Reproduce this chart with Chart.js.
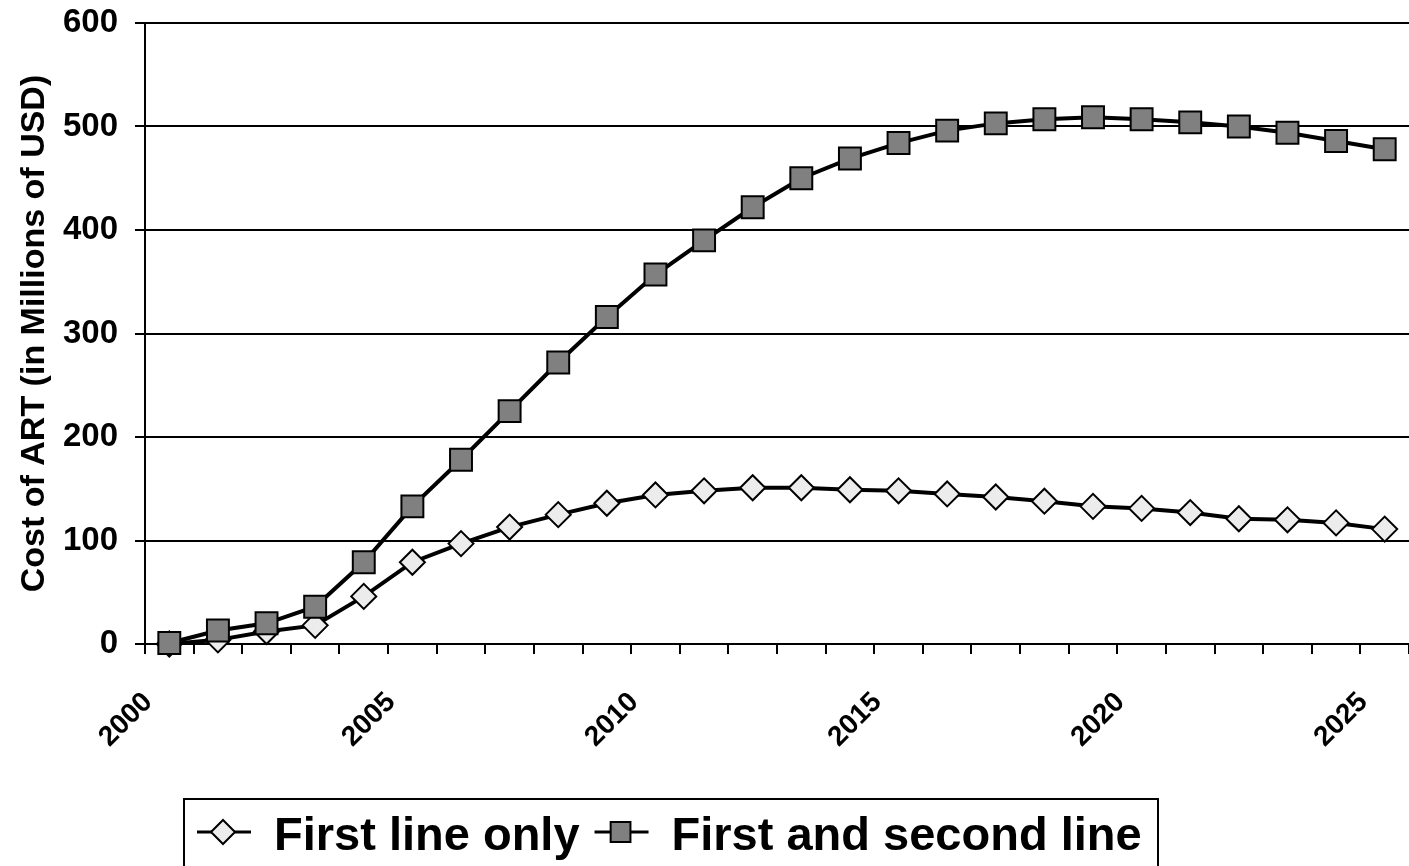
<!DOCTYPE html>
<html>
<head>
<meta charset="utf-8">
<script src="https://cdn.jsdelivr.net/npm/chart.js@4.4.1/dist/chart.umd.min.js"></script>
<style>
  html, body { margin: 0; padding: 0; background: #fff; }
  #wrap { width: 1409px; height: 866px; }
</style>
</head>
<body>
<div id="wrap"><canvas id="chart" width="1409" height="866"></canvas></div>
<script>
// Yearly cost of ART, millions of USD
const years = [2000, 2001, 2002, 2003, 2004, 2005, 2006, 2007, 2008, 2009, 2010, 2011, 2012,
  2013, 2014, 2015, 2016, 2017, 2018, 2019, 2020, 2021, 2022, 2023, 2024, 2025];
const firstLineOnly = [0, 4, 12, 18, 46, 79, 97, 113, 125, 136, 144, 148, 151,
  151, 149, 148, 145, 142, 138, 133, 131, 127, 121, 120, 117, 111];
const firstAndSecondLine = [1, 13, 20, 36, 79, 133, 178, 225, 272, 316, 357, 390, 422,
  450, 469, 484, 496, 503, 507, 509, 507, 504, 500, 494, 486, 478];
const seriesLabels = ['First line only', 'First and second line'];
const labeledYears = [2000, 2005, 2010, 2015, 2020, 2025];

const FONT = "'Liberation Sans', Arial, sans-serif";

// each year sits in the middle of its own slot on the axis
const toPoints = values => values.map((v, i) => ({ x: years[i] + 0.5, y: v }));

// keep the plot area fixed: no extra room reserved for edge labels
const noEdgePadding = scale => {
  scale.paddingTop = 0;
  scale.paddingBottom = 0;
  scale.paddingLeft = 0;
  scale.paddingRight = 0;
};

// boxed legend with line + marker samples, drawn under the x axis
const boxedLegend = {
  id: 'boxedLegend',
  afterDraw(chart) {
    const ctx = chart.ctx;
    const midY = 832;
    ctx.save();
    ctx.strokeStyle = '#000';
    ctx.lineWidth = 2;
    ctx.strokeRect(184, 799, 974, 90);

    ctx.font = 'bold 47px ' + FONT;
    ctx.textBaseline = 'alphabetic';
    let x = 197;
    chart.data.datasets.forEach(ds => {
      ctx.beginPath();
      ctx.strokeStyle = '#000';
      ctx.lineWidth = 3;
      ctx.moveTo(x, midY);
      ctx.lineTo(x + 54, midY);
      ctx.stroke();

      ctx.fillStyle = ds.pointBackgroundColor;
      ctx.lineWidth = 2;
      Chart.helpers.drawPoint(ctx, {
        pointStyle: ds.pointStyle,
        radius: ds.pointStyle === 'rect' ? 14 : 12,
        borderWidth: 2,
        rotation: 0
      }, x + 26, midY);

      ctx.fillStyle = '#000';
      const tx = x + 77;
      ctx.fillText(ds.label, tx, 850);
      x = tx + ctx.measureText(ds.label).width + 15;
    });
    ctx.restore();
  }
};

new Chart(document.getElementById('chart'), {
  type: 'line',
  data: {
    datasets: [
      {
        label: seriesLabels[0],
        data: toPoints(firstLineOnly),
        borderColor: '#000',
        borderWidth: 4,
        pointStyle: 'rectRot',
        pointRadius: 12.5,
        pointBackgroundColor: '#ececec',
        pointBorderColor: '#000',
        pointBorderWidth: 2,
        tension: 0,
        clip: false,
        order: 2
      },
      {
        label: seriesLabels[1],
        data: toPoints(firstAndSecondLine),
        borderColor: '#000',
        borderWidth: 4,
        pointStyle: 'rect',
        pointRadius: 15.5,
        pointBackgroundColor: '#808080',
        pointBorderColor: '#000',
        pointBorderWidth: 2,
        tension: 0,
        clip: false,
        order: 1
      }
    ]
  },
  options: {
    responsive: false,
    animation: false,
    layout: { autoPadding: false, padding: { top: 23, right: 0, left: 0, bottom: 0 } },
    plugins: {
      legend: { display: false },
      tooltip: { enabled: false }
    },
    scales: {
      x: {
        type: 'linear',
        min: years[0],
        max: years[years.length - 1] + 1,
        afterBuildTicks: scale => {
          scale.ticks = years.concat([years[years.length - 1] + 1]).map(v => ({ value: v }));
        },
        afterFit: scale => {
          scale.height = 222;
          noEdgePadding(scale);
        },
        ticks: {
          autoSkip: false,
          minRotation: 45,
          maxRotation: 45,
          padding: 32,
          labelOffset: 3,
          color: '#000',
          font: { family: FONT, size: 28, weight: 'bold' },
          callback: v => labeledYears.includes(v) ? String(v) : ''
        },
        grid: {
          drawOnChartArea: false,
          drawTicks: true,
          tickLength: 10,
          color: '#000',
          lineWidth: 2
        },
        border: { color: '#000', width: 2 }
      },
      y: {
        min: 0,
        max: 600,
        afterFit: scale => {
          scale.width = 145;
          noEdgePadding(scale);
        },
        ticks: {
          stepSize: 100,
          padding: 17,
          color: '#000',
          font: { family: FONT, size: 33, weight: 'bold' }
        },
        grid: {
          color: '#000',
          lineWidth: 2,
          tickLength: 10
        },
        border: { color: '#000', width: 2 },
        title: {
          display: true,
          text: 'Cost of ART (in Millions of USD)',
          color: '#000',
          font: { family: FONT, size: 34, weight: 'bold' },
          padding: { top: 14, bottom: 0 }
        }
      }
    }
  },
  plugins: [boxedLegend]
});
</script>
</body>
</html>
